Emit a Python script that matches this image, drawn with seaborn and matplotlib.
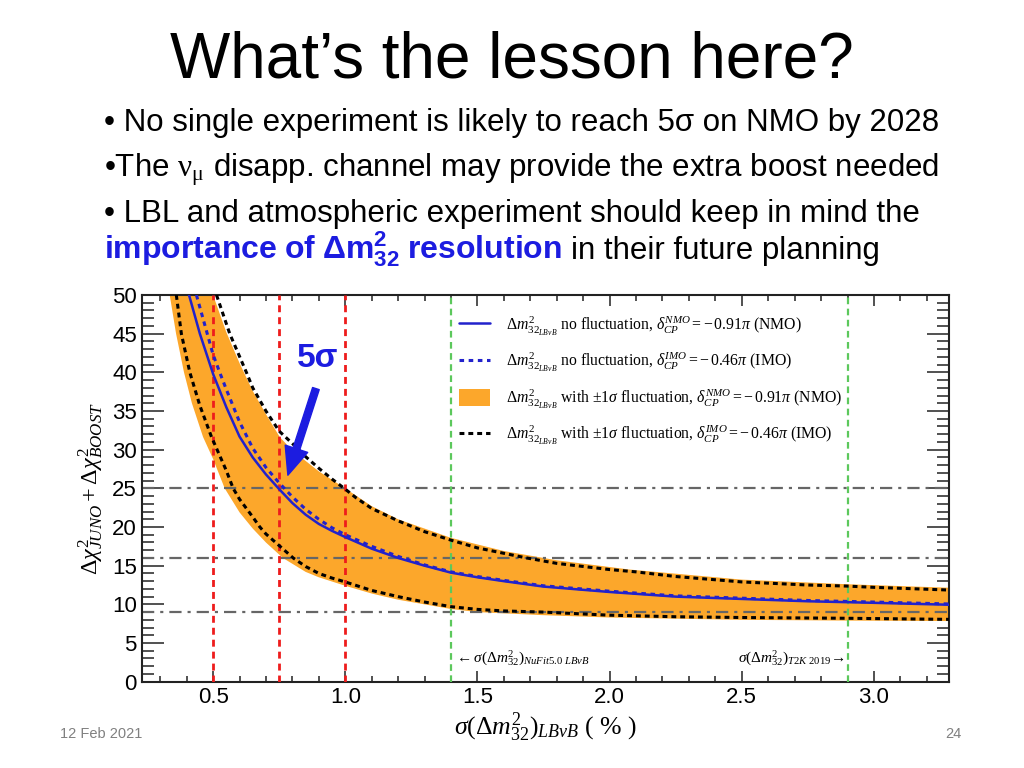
import matplotlib
matplotlib.use("Agg")
import matplotlib.pyplot as plt
import matplotlib.ticker as mticker
from matplotlib.lines import Line2D
from matplotlib.patches import Patch
import pandas as pd
import seaborn as sns

sns.set_style("ticks")
plt.rcParams['font.family'] = ['Liberation Sans', 'DejaVu Sans']
plt.rcParams['mathtext.fontset'] = 'custom'
plt.rcParams['mathtext.rm'] = 'Liberation Serif'
plt.rcParams['mathtext.it'] = 'Liberation Serif:italic'
plt.rcParams['mathtext.bf'] = 'Liberation Sans:bold'
plt.rcParams['text.color'] = 'black'
plt.rcParams['axes.labelcolor'] = 'black'
plt.rcParams['xtick.color'] = 'black'
plt.rcParams['ytick.color'] = 'black'

# data --------------------------------------------------------------------
# NMO, no fluctuation (blue solid)
x_nmo = [0.409, 0.45, 0.5, 0.55, 0.6, 0.65, 0.7, 0.75, 0.8, 0.85, 0.9, 0.95, 1.0,
         1.1, 1.2, 1.3, 1.4, 1.5, 1.6, 1.75, 2.0, 2.25, 2.5, 2.75, 3.0, 3.285]
y_nmo = [50.0, 45.0, 39.8, 35.5, 31.7, 29.0, 26.8, 24.9, 23.1, 21.6, 20.4, 19.5, 18.7,
         17.2, 16.0, 15.0, 14.1, 13.5, 13.0, 12.3, 11.6, 11.0, 10.7, 10.4, 10.2, 9.95]

# IMO, no fluctuation (blue dotted)
x_imo = [0.437, 0.5, 0.525, 0.55, 0.6, 0.65, 0.7, 0.75, 0.8, 0.85, 0.9, 0.95, 1.0,
         1.1, 1.2, 1.3, 1.4, 1.5, 1.6, 1.75, 2.0, 2.25, 2.5, 2.75, 3.0, 3.285]
y_imo = [50.0, 42.3, 40.0, 37.8, 33.6, 30.2, 27.7, 25.7, 23.9, 22.3, 21.0, 19.9, 19.0,
         17.5, 16.2, 15.1, 14.2, 13.6, 13.1, 12.4, 11.7, 11.1, 10.8, 10.5, 10.3, 10.05]

# IMO with +-1 sigma fluctuation (black dotted)
x_imo_hi = [0.513, 0.563, 0.626, 0.65, 0.7, 0.75, 0.8, 0.85, 0.9, 0.95, 1.0, 1.04,
            1.1, 1.2, 1.3, 1.4, 1.5, 1.6, 1.686, 1.8, 2.0, 2.1, 2.25, 2.5, 2.75, 2.9, 3.0, 3.285]
y_imo_hi = [50.0, 45.0, 40.0, 38.0, 35.0, 32.4, 30.8, 29.1, 27.6, 26.2, 24.9, 23.8,
            22.4, 20.8, 19.4, 18.3, 17.3, 16.6, 16.0, 15.3, 14.5, 14.2, 13.6, 12.9, 12.5, 12.36, 12.2, 11.85]
x_imo_lo = [0.361, 0.38, 0.412, 0.45, 0.494, 0.55, 0.576, 0.6, 0.65, 0.677, 0.7, 0.75,
            0.803, 0.85, 0.9, 0.95, 1.0, 1.1, 1.2, 1.3, 1.4, 1.5, 1.6, 1.75, 2.0, 2.25, 2.5, 2.9, 3.285]
y_imo_lo = [50.0, 45.0, 40.0, 35.7, 31.65, 27.3, 25.0, 23.6, 21.3, 20.0, 19.1, 17.6,
            16.0, 14.9, 14.0, 13.4, 12.9, 11.8, 11.0, 10.3, 9.7, 9.35, 9.15, 9.0, 8.6, 8.4, 8.3, 8.2, 8.06]

# NMO with +-1 sigma fluctuation (orange band)
x_band_lo = [0.336, 0.36, 0.39, 0.42, 0.462, 0.5, 0.544, 0.6, 0.65, 0.7, 0.764, 0.85,
             0.9, 1.0, 1.1, 1.2, 1.4, 1.5, 1.75, 2.0, 2.5, 2.9, 3.285]
y_band_lo = [50.0, 45.0, 40.0, 36.0, 31.65, 28.8, 25.0, 21.9, 19.8, 18.0, 16.0, 14.2,
             13.5, 12.4, 11.4, 10.6, 9.4, 9.0, 8.6, 8.3, 8.0, 7.9, 7.84]
x_band_hi = [0.5, 0.55, 0.6, 0.65, 0.7, 0.752, 0.8, 0.9, 1.0, 1.1, 1.2, 1.4, 1.6, 1.8,
             2.076, 2.5, 2.9, 3.285]
y_band_hi = [50.0, 45.2, 41.2, 37.6, 34.6, 31.65, 29.9, 27.2, 25.0, 22.7, 21.0, 18.6,
             16.9, 15.7, 14.5, 13.2, 12.6, 12.15]

red_lines = [0.5, 0.75, 1.0]
green_lines = [1.4, 2.9]
sigma_levels = [25, 16, 9]
x_ticks = [0.5, 1.0, 1.5, 2.0, 2.5, 3.0]
y_ticks = [0, 5, 10, 15, 20, 25, 30, 35, 40, 45, 50]

labels = [
    r'$\Delta m^{2}_{32_{LB\nu B}}$ no fluctuation, $\delta^{NMO}_{CP} = -\,0.91\pi$ (NMO)',
    r'$\Delta m^{2}_{32_{LB\nu B}}$ no fluctuation, $\delta^{IMO}_{CP} = -\,0.46\pi$ (IMO)',
    r'$\Delta m^{2}_{32_{LB\nu B}}$ with $\pm 1\sigma$ fluctuation, $\delta^{NMO}_{CP} = -\,0.91\pi$ (NMO)',
    r'$\Delta m^{2}_{32_{LB\nu B}}$ with $\pm 1\sigma$ fluctuation, $\delta^{IMO}_{CP} = -\,0.46\pi$ (IMO)',
]

# colours
c_blue = '#2222cc'
c_orange = '#fca72b'
c_red = '#ee1c1c'
c_green = '#5cc85c'
c_gray = '#666666'
c_slide_blue = '#1c1ce0'

fig = plt.figure(figsize=(10.24, 7.68), dpi=100)
ax = fig.add_axes([141.7 / 1024, 1 - 681.7 / 768, 807.6 / 1024, 386.7 / 768])

# orange band
ax.fill(x_band_lo + x_band_hi[::-1], y_band_lo + y_band_hi[::-1],
        color=c_orange, lw=0, zorder=1)

# reference lines
for v in red_lines:
    ax.axvline(v, color=c_red, lw=2, ls=(0, (2.5, 1.8)), zorder=3)
for v in green_lines:
    ax.axvline(v, color=c_green, lw=1.6, ls=(0, (3, 2)), zorder=3)
for h in sigma_levels:
    ax.axhline(h, color=c_gray, lw=1.6, ls=(0, (5.5, 2.7, 1.4, 2.7)), zorder=2)

# curves
df_nmo = pd.DataFrame({'x': x_nmo, 'y': y_nmo})
df_imo = pd.DataFrame({'x': x_imo, 'y': y_imo})
df_hi = pd.DataFrame({'x': x_imo_hi, 'y': y_imo_hi})
df_lo = pd.DataFrame({'x': x_imo_lo, 'y': y_imo_lo})

sns.lineplot(data=df_hi, x='x', y='y', ax=ax, color='black', lw=2.2,
             linestyle=(0, (1.6, 1.3)), zorder=4)
sns.lineplot(data=df_lo, x='x', y='y', ax=ax, color='black', lw=2.2,
             linestyle=(0, (1.6, 1.3)), zorder=4)
sns.lineplot(data=df_imo, x='x', y='y', ax=ax, color=c_blue, lw=2.2,
             linestyle=(0, (1.5, 1.5)), zorder=5)
sns.lineplot(data=df_nmo, x='x', y='y', ax=ax, color=c_blue, lw=1.8, zorder=6)

ax.set_xlim(0.23, 3.285)
ax.set_ylim(0, 50)
ax.set_xticks(x_ticks)
ax.set_yticks(y_ticks)
ax.xaxis.set_minor_locator(mticker.MultipleLocator(0.1))
ax.yaxis.set_minor_locator(mticker.MultipleLocator(1))
ax.tick_params(which='both', direction='in', top=True, right=True, colors='#222222',
               labelcolor='black', labelsize=16)
ax.tick_params(axis='y', which='major', length=16, width=1.1, pad=3.5)
ax.tick_params(axis='y', which='minor', length=8.5, width=1.1)
ax.tick_params(axis='x', which='major', length=8, width=1.1, pad=4)
ax.tick_params(axis='x', which='minor', length=4, width=1.1)
for s in ax.spines.values():
    s.set_linewidth(1.5)
    s.set_color('#222222')

ax.set_xlabel(r'$\sigma(\Delta m^{2}_{32})_{LB\nu B}$ ( % )', fontsize=18.5,
              family='Liberation Serif', labelpad=2)
ax.set_ylabel(r'$\Delta\chi^{2}_{JUNO} + \Delta\chi^{2}_{BOOST}$', fontsize=17.5, labelpad=4)

# legend
handles = [
    Line2D([], [], color=c_blue, lw=1.8),
    Line2D([], [], color=c_blue, lw=2.2, ls=(0, (1.5, 1.5))),
    Patch(facecolor=c_orange, edgecolor='none'),
    Line2D([], [], color='black', lw=2.2, ls=(0, (1.6, 1.3))),
]
leg = ax.legend(handles, labels, loc='upper left', bbox_to_anchor=(0.375, 0.985),
                frameon=False, prop={'family': 'Liberation Serif', 'size': 11.3},
                handlelength=2.0, handleheight=1.3, handletextpad=1.0, labelspacing=0.85)
leg.set_zorder(10)

# in-plot annotations
ax.text(1.41, 3.0, r'$\leftarrow\sigma(\Delta m^{2}_{32})_{NuFit5.0\ LB\nu B}$', fontsize=11,
        ha='left', va='center', zorder=7)
ax.text(2.89, 3.0, r'$\sigma(\Delta m^{2}_{32})_{T2K\ 2019}\!\rightarrow$', fontsize=11,
        ha='right', va='center', zorder=7)
ax.text(0.897, 41.8, '5σ', color=c_slide_blue, fontsize=24, fontweight='bold',
        ha='center', va='center', zorder=8)
ax.annotate('', xy=(0.783, 26.7), xytext=(0.889, 37.9), zorder=8,
            arrowprops=dict(facecolor=c_slide_blue, edgecolor=c_slide_blue,
                            width=5, headwidth=17, headlength=20))

# slide texts
fig.text(0.5, 1 - 78 / 768, 'What’s the lesson here?', ha='center', va='baseline',
         fontsize=46)
fig.text(104 / 1024, 1 - 131 / 768, '• No single experiment is likely to reach 5σ on NMO by 2028',
         fontsize=22.5, va='baseline')
fig.text(104 / 1024, 1 - 176 / 768,
         r'•The $\mathrm{\nu}_{\mathrm{\mu}}$ disapp. channel may provide the extra boost needed',
         fontsize=22.5, va='baseline')
fig.text(104 / 1024, 1 - 222 / 768, '• LBL and atmospheric experiment should keep in mind the',
         fontsize=22.5, va='baseline')
fig.text(104 / 1024, 1 - 259 / 768,
         r'$\mathbf{importance\ of\ \Delta m^{2}_{32}\ resolution}$',
         fontsize=23, va='baseline', color=c_slide_blue)
fig.text(571 / 1024, 1 - 259 / 768, 'in their future planning', fontsize=22.5, va='baseline')

fig.text(60 / 1024, 1 - 738 / 768, '12 Feb 2021', fontsize=10.5, color='#808080', va='baseline')
fig.text(962 / 1024, 1 - 738 / 768, '24', fontsize=10.5, color='#808080', va='baseline', ha='right')

fig.savefig('out.png', dpi=100)
